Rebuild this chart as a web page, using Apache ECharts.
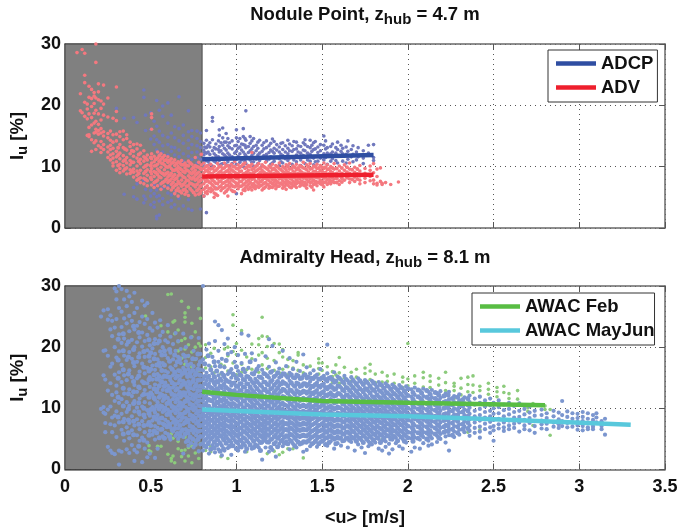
<!DOCTYPE html>
<html>
<head>
<meta charset="utf-8">
<style>
html, body { margin: 0; padding: 0; background: #fff; }
#mychart { width: 679px; height: 531px; }
</style>
</head>
<body>
<div id="mychart"></div>
<script src="https://cdn.jsdelivr.net/npm/echarts@6/dist/echarts.min.js"></script>
<script>
// values, one [x, [y, y, ...]] per column of dots
const adcpColumns = [
  [.3,[19.5]],[.345,[17.9,5.5]],[.4,[18,6.6,5.1]],[.42,[17.2,7.2,4.7]],[.46,[22.5,21.3,7.8,5.2,4.1]],[.47,[18.4,15.9,6.3,4.7]],[.5,[18.8,16.1,14.5,6.1,5.2,3.8]],
  [.52,[17.4,15,13.6,7.1,5.6,4.2,3.4]],[.535,[20.8,16.6,14.4,12.7,6.2,5.1,1.9,1.5]],[.55,[19.2,15.8,14,12.2,7,5.3,4.4,2.1]],[.57,[19.9,18.2,15.1,13.4,12.4,6.5,4.8,3.8]],
  [.6,[20.4,17.1,14.8,13.6,11.9,6.8,5.7,4.2]],[.62,[18.4,15.5,13.2,12.5,7.1,5.4,4.5,3.4]],[.64,[16.5,14.7,13.1,11.9,5.8,3.8]],[.665,[21.4,16.2,14.2,12.7,11.6,4.8,3.1]],
  [.69,[16.8,15.1,13.8,12.1,10.9,3.6]],[.72,[19.1,15.7,14.3,13,11.7,10.8,4.6,3.1]],[.74,[15.9,14.9,13.6,12.3,11.2,2.9]],[.77,[15.8,14.6,13.4,12.4,11.5,10.6]],[.79,[15.5,14.1,13.1,12,11.2,3.1]],
  [.81,[13.8,12.7,11.9,10.6,5.2]],[.825,[15.9,14.3,13.1,12.2,11,2.5]],[.845,[13.9,13.2,12,10.4]],[.86,[18,17.4,14.4,12.6,11.4,10.1]],[.88,[13.7,12.9,11.8,10.7,6.5]],
  [.9,[16,15.1,13.3,12.4,11,10.2]],[.92,[16.3,14.7,13.5,12.1,10.5]],[.94,[15.4,14,12.7,11.6,10.3]],[.96,[13.9,13.1,11.9,10.1]],[1,[16,14.7,13.5,12.5,11.2,10.4,5.6]],
  [1.02,[14.6,13.2,12.1,10.7]],[1.04,[16.2,14.9,13.6,12.4,11.3,10]],[1.055,[19.1,14.3,13.1,11.8,10.5]],[1.08,[14.9,13.8,12.6,11.1]],[1.1,[14.6,13.3,12.2,10.8,10.1]],
  [1.125,[14,13,11.9,10.5]],[1.15,[13.5,12.5,11.4,10.2]],[1.175,[14.2,13.1,12,10.9]],[1.2,[13.8,12.7,11.6,10.4]],[1.22,[14.1,13,12.2,10.9]],[1.25,[13.2,12.4,11.3,10.2]],
  [1.27,[13.9,12.8,11.8,10.6]],[1.3,[14.3,13,12.1,11,10.1]],[1.325,[13.4,12.5,11.5,10.4]],[1.35,[14,12.9,11.9,10.8]],[1.375,[13.3,12.2,11.1,10.2]],
  [1.4,[14.4,13.6,12.6,11.6,10.5]],[1.43,[14.3,13.1,12,10.9]],[1.45,[13.9,12.8,11.4,10.3]],[1.475,[13.2,12.3,10.9]],[1.51,[15,13.5,12.1,11.1]],[1.53,[13.1,12.2,10.4]],
  [1.56,[13.7,12.4,11.3]],[1.59,[14,12.8,11.7,10.6]],[1.62,[13,12.1,10.9]],[1.65,[14.2,12.5,11.2]],[1.68,[13.4,12,10.8]],[1.71,[13.1,11.6]],[1.74,[12.6,11.4,10.5]],[1.77,[13.5,12.2]],[1.8,[13.6,11.5,11]]
]
const adcpFillColumns = [
  [.815,[13.2,12.3,11.2,10.1]],[.835,[13.5,12.4,10.8]],[.87,[13.1,12.1,10.9]],[.895,[14.2,12.8,11.6]],[.91,[13.9,12.6,11.3,10.4]],[.93,[14,13,11.9]],[.95,[14.6,13.4,12.2,10.8]],
  [.975,[14.2,12.9,11.6,10.5]],[.99,[13.4,12.2,11]],[1.01,[14.1,13,11.7]],[1.03,[13.7,12.7,11.1]],[1.05,[14.6,13.5,12,10.9]],[1.07,[13.3,12.3,11.4]],[1.09,[14.2,12.9,11.8,10.7]],
  [1.115,[13.5,12.6,11.2]],[1.135,[14.3,12.2,11]],[1.16,[13.9,12.9,11.8]],[1.19,[13.4,12.3,11.2]],[1.21,[14.5,12.5,10.6]],[1.235,[13.6,12.7,11.5]],[1.26,[13.8,12,10.8]],
  [1.285,[13.4,12.4,11.3]],[1.31,[13.7,12.6,11.4]],[1.335,[14.1,12.8,11.1]],[1.36,[13.4,12.4,11.5]],[1.39,[13.9,12.7,11.8]],[1.415,[13.3,12.2,11.1]],[1.44,[13.5,12.5,11.6]],
  [1.46,[14.1,12.9,10.8]],[1.49,[13.6,12.6,11.4]],[1.52,[14.2,12.9,11.5]],[1.55,[13.3,12.1,10.9]],[1.58,[13.1,12.2,11]],[1.61,[13.5,12.5]],[1.64,[13.2,12,10.6]],[1.67,[12.8,11.6]],[1.7,[12.4,11.1]]
]
const advColumns = [
  [.07,[28.6]],[.09,[21.9,19.1]],[.1,[29.1,18.8]],[.115,[28.5,24.9,23.7,20.5,18.2]],[.13,[20.2,19.4,17.8,15.1]],[.14,[23.1,21.3,18.6,16.4,15.2,14.9]],
  [.155,[22.6,21.1,19.8,18,16.8,14.4,12.5]],[.17,[22.1,21.5,20.3,18.7,17.1,15.5,13.9]],[.18,[30,27,21.2,19.2,17.4,16.1,15.6,14.2,12.8]],[.195,[23.5,22.2,20.9,18.6,16.9,15.9,15.3,13.4]],
  [.21,[20.7,19.5,17.6,16.2,15.5,14.1,13.1,12.3]],[.225,[23.3,20.2,18.4,15.7,15,13.6,12.8]],[.25,[21.2,18.1,15.4,14.7,13.2,12.4,11.5]],[.265,[15.8,14.3,13.5,12.8,11.9,11.1]],
  [.28,[17.9,15.2,14,13,12.1,11.4,10.6,10.1]],[.3,[23,19,17.5,15.3,14.2,12.5,11.6,10.8,9.4]],[.32,[15.7,14.9,13.6,12.2,11.3,10.4,9.7,9]],[.34,[15.8,14.4,13.1,11.8,10.9,10.2,9.3]],
  [.36,[15.2,14.6,12.7,11.5,10.6,9.8,8.8]],[.38,[14,13.3,12.1,11,10.3,9.5,8.9]],[.4,[13.6,12.5,11.7,10.7,9.6,9.1,8.3]],[.42,[13.7,12.9,11.4,10.1,9.3,8.6,7.8]],
  [.44,[13.5,12.2,11.2,10.5,9.4,8.2,7.4]],[.46,[12.6,11.6,10.9,9.9,8.9,8.1,7.2]],[.48,[11.9,11.1,10.3,9.5,8.6,7.7,6.9]],[.505,[18.6,18,16.1,12.1,11.3,10.6,9.7,8.8,7.9,7]],
  [.52,[11.7,10.8,10.1,9.2,8.4,7.4,6.6]],[.54,[12.4,11.4,10.4,9.6,8.7,7.8,6.9]],[.56,[12.1,11.2,10.6,9.9,9,8.2,7.2,6.3]],[.58,[11.8,11,10.3,9.5,8.6,7.6,6.8]],
  [.6,[11.6,10.7,9.9,9.1,8.3,7.4,6.5]],[.62,[11.3,10.5,9.7,8.9,8,7.1,6.2]],[.64,[11.1,10.2,9.4,8.7,7.9,6.9,5.6]],[.66,[10.8,10,9.2,8.5,7.6,6.5,5.2]],[.68,[11,10.3,9.5,8.6,7.8,6.8,5.7]],
  [.7,[10.6,9.8,9,8.2,7.4,6.3,5.5]],[.72,[10.9,10.1,9.3,8.5,7.7,6.9,5.3]],[.74,[10.4,9.6,8.8,8,7.2,6.1]],[.76,[11.5,10.2,9.4,8.6,7.8,6.7,5.4]],[.78,[10.7,9.9,9.1,8.3,7.5,6.4,5.5]],
  [.795,[12,10.3,9.5,8.7,7.9,7,6.1]],[.81,[10.6,9.7,9,8,7.2,6.3,5.2]],[.83,[10.2,9.4,8.6,7.8,6.9,6,5.6]],[.85,[10.4,9.6,8.9,8.1,7.3,6.5,5.9]],[.87,[10,9.2,8.4,7.6,6.7,5.7,5]],
  [.89,[10.5,9.7,8.8,8,7.2,6.4,5.3]],[.91,[10.1,9.3,8.5,7.7,6.9,6.1]],[.93,[10.6,9.8,9,8.2,7.4,6.6,5.7]],[.95,[10.2,9.4,8.6,7.8,7,6.3,5.2]],[.97,[10.4,9.5,8.7,7.9,7.1,6.2]],
  [.99,[10.8,10,9.1,8.3,7.5,6.7,5.9]],[1.01,[10.3,9.6,8.8,8,7.2,6.4]],[1.03,[10.1,9.3,8.5,7.6,6.8,5.6]],[1.05,[10.6,9.7,8.9,8.1,7.3,6.5,6.1]],[1.07,[10.2,9.4,8.6,7.8,7.1,6.3]],
  [1.09,[12.3,10.4,9.5,8.7,7.9,7,6.2]],[1.11,[10,9.2,8.4,7.7,6.9,6.4]],[1.13,[10.5,9.6,8.8,8,7.2,6.6]],[1.15,[10.3,9.4,8.6,7.8,7,6.2]],[1.17,[10.7,9.8,8.9,8.1,7.4,6.7]],
  [1.19,[10.1,9.3,8.5,7.7,6.9,6.5]],[1.21,[10.4,9.5,8.7,7.9,7.2,6.6]],[1.23,[10.2,9.4,8.6,7.8,7.1,6.4]],[1.25,[10.6,9.7,8.8,8,7.3,6.8]],[1.27,[10,9.2,8.5,7.7,7,6.5]],
  [1.29,[10.3,9.5,8.7,7.9,7.2,6.3]],[1.31,[10.5,9.6,8.9,8.1,7.4,6.7]],[1.33,[10.1,9.3,8.4,7.6,6.9]],[1.35,[10.4,9.5,8.6,7.8,7.2,6.6]],[1.37,[10.2,9.4,8.7,8,7.3,6.8]],
  [1.39,[10.7,9.8,8.9,8.1,7.5,7]],[1.41,[10.3,9.5,8.6,7.9,7.1,6.5]],[1.43,[10.5,9.6,8.8,8,7.4,6.9]],[1.45,[10.1,9.2,8.5,7.8,7.1,6.2]],[1.47,[10.4,9.7,8.9,8.2,7.5,6.9]],
  [1.49,[10.2,9.4,8.6,7.8,7.2]],[1.51,[10.6,9.7,8.9,8.1,7.4,6.7]],[1.53,[10.3,9.5,8.7,7.9,7.1]],[1.55,[10,9.2,8.4,7.7,7.2]],[1.57,[10.5,9.6,8.8,8,7.4]],[1.6,[10.1,9.3,8.5,7.7,7.1]],
  [1.63,[10.3,9.4,8.6,7.8]],[1.66,[10.6,9.6,8.9,8,7.4]],[1.69,[9.9,9.1,8.3,7.6]],[1.72,[10.2,9.3,8.5,7.8,7.2]],[1.75,[9.7,8.9,8.1,7.4]],[1.78,[10.1,9.4,8.4,7.7]],
  [1.8,[10.5,9,7.8,7.2]],[1.82,[9.6,8.4,7.3,7]],[1.84,[9.8,7.6]],[1.85,[7.1,7.3]],[1.87,[7.4]],[1.9,[7.1]],[1.945,[7.5]]
]
const advFillColumns = [
  [.31,[13.1,11.9,10.2]],[.35,[12.9,11.1,9.6]],[.39,[12.6,10.7,9.2]],[.43,[12,10.9,8.9,8]],[.47,[11.4,10.1,9.2,7.9]],[.5,[11.5,10.2,9.2,8.2]],[.53,[11.2,10.2,9,7.6]],[.55,[11.8,10.9,9.3,8.3]],
  [.57,[11.5,10.5,8.9,7.4]],[.59,[11.1,10,8.9,7.9]],[.61,[11,10.1,8.6,7.7]],[.63,[10.7,9.4,8.4,7.4,6.6]],[.65,[10.5,9.6,8.1,7.1,6.1]],[.67,[10.6,9.7,8.9,7.2,6]],[.69,[10.3,9.2,8.3,7.1,6.2]],
  [.71,[10.2,9.4,7.8,6.8,5.9]],[.73,[10.6,9,8.2,7.3,6.4]],[.75,[9.9,9.1,8.2,7,5.8]],[.77,[10,8.9,8,7.1,6.1]],[.79,[9.7,8.5,7.7,6.8,5.7]],
  [.82,[10,9.3,8.2,7.6,6.6,5.8]],[.84,[9.8,9.1,7.5,6.4]],[.86,[9.7,8.8,7.8,7,6.2]],[.88,[9.4,8.6,7.3,6.4,5.5]],[.9,[10,9.1,8.3,7.6,6.7]],[.92,[9.7,8.9,8.1,7.3,6.5]],[.94,[10.1,9.2,7.6,6.9,6]],
  [.96,[9.8,9,8.2,7.4,6.7]],[.98,[10,9.3,7.7,6.8,6]],[1,[9.7,8.9,8.1,7.3,6.9]],[1.02,[9.9,9.2,8.4,7.6,6.8]],[1.04,[10.4,8.8,8,7.1,6.2]],[1.06,[9.9,9.1,8.3,7.6,6.8]],[1.08,[10,8.9,8.2,7.4,6.6]],
  [1.1,[9.7,9,8.1,7.2,6.7]],[1.12,[10.2,9.4,8.5,7.5,6.8]],[1.14,[9.8,9,8.3,7.6,6.9]],[1.16,[10,9.1,8.1,7.3,6.5]],[1.18,[9.6,8.8,7.9,7.1]],[1.2,[9.9,9,8.2,7.4,6.7]],[1.22,[9.7,8.9,8.1,7.5,6.9]],
  [1.24,[10,9.1,8.3,7.5,6.8]],[1.26,[9.5,8.7,8.1,7.3]],[1.28,[9.8,9,8.2,7.4,6.8]],[1.3,[10,9.1,8.3,7.6,7]],[1.32,[9.7,8.8,8,7.2,6.6]],[1.34,[9.9,9,8.2,7.4,6.9]],[1.36,[9.8,8.9,8.2,7.5]],
  [1.38,[10,9.1,8.4,7.6,7.1]],[1.4,[9.7,8.9,8.2,7.4,6.9]],[1.42,[10,9.1,8.3,7.6]],[1.44,[9.7,8.9,8.2,7.5,6.7]],[1.46,[10,9.2,8.3,7.6,7.2]],[1.48,[9.8,9,8.2,7.4]],[1.5,[9.9,9.2,8.4,7.6,7.1]],
  [1.52,[9.9,9,8.2,7.5]],[1.54,[9.6,8.8,8,7.4]],[1.56,[9.8,9,8.2,7.6]],[1.585,[9.7,8.9,8.1,7.4]],[1.615,[9.8,8.9,8.1,7.5]],[1.645,[9.9,9.1,8.2]],[1.675,[9.5,8.7,7.9]],[1.705,[9.6,8.8,8]]
]
const adcpLine = [[.8,11.2],[1.8,11.9]]
const advLine = [[.8,8.4],[1.8,8.7]]

const febColumns = [
  [.47,[25.1]],[.49,[3.9,3.1]],[.5,[2.9]],[.54,[3.4,3.8]],[.56,[3.8,23.5]],[.6,[28.6,2.5,22.5]],[.62,[28.7,5.8,1.8,1.4]],[.63,[5.1,2.2,24.1]],[.64,[24.3,22.2,1.1]],
  [.66,[22.8,20.9,19.4,4.6,3.4]],[.68,[27.5,21.1,18.2,3.1,2.1]],[.7,[19.7,17.2,5.3,3.2,1.4]],[.7,[25.6,24.9,24.1,21.4,15.9]],[.72,[26.5,20.4,18.5,3.6,2.2]],[.74,[23.9,21.7,19.2,16.8,1.1,3.8]],
  [.76,[22.5,20,18,4.6,2.7]],[.78,[26.3,20.6,18.9,16.2,2.9,1.8]],[.79,[24.7,20.2,17.5,4.2]],[.82,[20.4,18.3,16.6,3.1]],[.85,[19,16.8,2.9,3.8]],[.87,[19.8,17.5,15.8]],[.91,[17.2,15.7,2.1]],[.93,[19.7,16.9]],
  [.95,[20,18.6,16.1,1.8]],[.98,[25.3,23.6,19.3,17.4,15.4]],[1,[20.6,18.8,16.7,15.5]],[1.03,[22.7,19.5,17.2,15.9]],[1.06,[18.4,16.3,2.9]],[1.09,[20.5,18.1,16.4]],[1.13,[21.4,20.4,18.7,15.9]],[1.15,[24.9,21.8,19.1,17.1]],
  [1.18,[21.7,20.1,18.2,16.5,2.6]],[1.22,[20.6,17.8,16.2,3]],[1.25,[20.5,19.1,15.8,2.4]],[1.27,[19.6,18.4,16.4,2.8]],[1.3,[18,16.8,15.5,3.4]],[1.33,[17.8,16.6,3.4]],[1.36,[19.1,18.7,16.2,15.4]],[1.39,[17.1,15.8,1.9]],
  [1.43,[16.9,15.7]],[1.48,[18.1,17.4,16.5,15.6]],[1.5,[17.4,16.2,14.9]],[1.53,[16.8,15.7,14.8]],[1.56,[16,15.2,14.2]],[1.58,[17.1,15.5,14.6]],[1.6,[18.3,15.8,14.1]],[1.63,[16.7,15,13.9]],[1.67,[15.9,14.4,13.7]],
  [1.7,[16.4,15.1,13.8]],[1.75,[16.6,15.7,14.2]],[1.78,[17.2,16.1,14.7,13.5]],[1.81,[15.6,14.2]],[1.85,[15.9,14.3,13.6,4.9]],[1.88,[15.3,14.4,13.7]],[1.92,[15.6,14.1]],[1.97,[15.1,14.3,13.4]],[2,[20.6,14.8,13.7]],
  [2.04,[15.3,14.1]],[2.09,[15.9,15,13.5]],[2.13,[15.3,14.4,13.4]],[2.18,[14.9,13.8]],[2.22,[15.9,14.2,12.9]],[2.27,[14.1,13.6,12.9,11.6]],[2.31,[14.9,13.3,12.2]],[2.35,[15.1,13.9,12.7,11.5,6.1]],[2.38,[15.3,13.8,12.6]],
  [2.42,[13.6,12.9,11.9,6.5]],[2.47,[14.1,13.1,12.3]],[2.52,[13.4,12.7,11.9]],[2.56,[13.6,12.6]],[2.59,[12.4,11.6]],[2.64,[12.9,11.5]],[2.7,[10.1,9.5]],[2.73,[10.8,7.2]],[2.8,[10.4,9.8]],[2.83,[5.6,9.8]]
]
const mayJunColumns = [
  [.21,[25,9.9]],[.225,[26,19.4,15.4,10.2,9.3]],[.235,[19.5,14.7,9.1,7.6,6.1]],[.25,[26.2,24.5,18.6,12.9,9.8,3.7]],[.265,[25.2,22.9,16.8,14.1,10.3,7.4,3.1]],[.275,[24.3,21.8,17.3,12.2,8.5,6.1,2.7]],
  [.29,[29.6,23.2,20,15.5,11.2,8.8,7.2,2.5]],[.3,[29.1,27.8,24.6,18.3,13.7,12.6,9.5,5.3]],[.315,[30,26.4,22.1,19.3,15.9,10.9,7.7,3.1,0.8]],[.33,[29.5,25.8,23.3,20.7,17.1,14.3,11.5,9.1,6.5,2.9]],
  [.345,[27.8,24.7,21.4,18.6,15.4,12.4,8.3,4.7]],[.36,[29.2,26.7,23.9,20.4,17.9,14.6,11,9.4,6.9,3.3]],[.375,[28.3,25.1,22.6,19.2,16.2,13.1,10.4,7.6,5.1,2.7]],[.39,[27.4,24.3,21.2,18.1,15.1,12,8.7,6.4,4]],
  [.405,[28.9,25.6,22.9,20,16.9,13.8,11.2,9.5,7.2,3.2,1.4]],[.42,[26.4,23.5,20.8,17.6,14.9,12.7,10.1,8.2,5.6,2.8]],[.435,[24.1,21.6,19,16,13.3,11.6,9,6.6,4.7]],[.45,[27.6,25,22.4,20.1,17.3,14.4,12.1,10.3,7.9,5.2,1.2]],
  [.465,[26.8,23.8,21,18.4,15.7,13,11,8.5,6.1,3.4]],[.48,[27.2,24.6,22,19.5,16.6,14.1,12.3,9.7,7.3,4.4,2]],[.495,[23.1,20.3,17.7,15.1,13.5,10.8,8.8,6.3,2.6]],[.51,[25.6,22.7,19.8,17,14.7,12.2,10.2,8,5.7]],
  [.525,[24,21.3,18.9,16.3,13.9,11.4,9.3,7.1,4.9,1.9]],[.54,[23.2,20.6,18,15.6,13.2,11,8.9,6.8,3.4]],[.555,[24.4,21.9,19.3,16.8,14.5,12.4,10.5,8.4,6.5]],[.57,[22.5,20,17.4,15,13,11.2,9.4,7.5,5.4]],
  [.585,[21.1,18.7,16.1,14.2,12.1,10.1,8.1,6]],[.6,[23.6,20.8,18.2,15.9,13.7,11.7,9.8,7.8,5.8]],[.615,[21.7,19.1,16.7,14.6,12.7,10.7,8.9,6.9,4.9]],[.63,[20.5,18,15.4,13.4,11.5,9.6,7.7,6.2]],
  [.645,[22.3,19.4,17,14.9,12.9,11,9.2,7.3,5.5]],[.66,[21,18.4,16.2,14.1,12.2,10.4,8.6,6.7,5]],[.675,[19.7,17.4,15.3,13.5,11.8,9.9,8,6.1]],[.69,[22.2,18.8,16.6,14.5,12.6,10.8,9.1,7.4,5.3,2.6]],
  [.705,[20,17.7,15.7,13.8,12,10.2,8.4,6.6,4.5]],[.72,[18.6,16.4,14.4,12.8,11.1,9.5,7.7,5.9,3.9]],[.735,[21.6,17.3,15.2,13.3,11.6,10,8.2,6.4,4.3]],[.75,[19.4,16.9,14.8,13.1,11.4,9.7,7.9,6,3.6]],
  [.765,[18.1,15.9,14,12.4,10.9,9.2,7.5,5.6,4.6]],[.78,[21.5,17.1,15.5,13.6,12,10.5,8.8,7.1,5.2,3]],[.79,[18.9,16.3,14.6,12.9,11.3,9.6,8.1,6.3,4.1]],
  [.805,[30,18,16.2,14.7,13.4,12.3,11.2,10.1,9.2,8.2,7.3,6.4,5.4,4.3,3.1]],[.825,[19.6,15.8,14.5,13.1,12,10.9,9.8,8.8,7.9,6.9,6,5,3.6]],[.84,[20.6,17,15.3,14,12.7,11.5,10.4,9.4,8.5,7.5,6.5,5.6,4.5,2.6]],
  [.86,[18.4,15.7,14.6,13.3,12.2,11.1,10,9.1,8.1,7.1,6.2,5.2,4]],[.875,[24.2,21,16.9,15,13.8,12.6,11.6,10.5,9.6,8.6,7.6,6.7,5.7,4.6,2.8]],[.895,[23.6,19.4,17.6,15.4,14.2,13,11.9,10.8,9.9,8.9,7.9,6.9,5.9,4.8,3.3]],
  [.915,[22.8,18.1,15.8,14.5,13.3,12.2,11.1,10.1,9.1,8.2,7.2,6.3,5.3,3.9,2.3]],[.93,[20.5,16.7,15.1,14,12.8,11.7,10.6,9.6,8.6,7.7,6.8,5.8,4.7,3.1]],[.95,[21.4,18.9,15.6,14.4,13.2,12,10.9,9.9,9,8,7.1,6.1,5,3.5]],
  [.97,[19.2,16.4,15,13.7,12.5,11.4,10.3,9.4,8.4,7.4,6.5,5.5,4.4,2.4]],[.99,[20,17.6,15.4,14.2,13,11.8,10.7,9.7,8.8,7.8,6.9,5.9,4.8]],[1.01,[18.7,16.1,14.7,13.5,12.3,11.2,10.2,9.2,8.3,7.3,6.3,5.3,4.2,3.1]],
  [1.03,[22.2,17.4,15.3,14.1,12.9,11.7,10.6,9.5,8.6,7.7,6.7,5.7,4.6,3.6]],[1.05,[18.9,15.9,14.6,13.4,12.2,11.1,10,9.1,8.1,7.2,6.2,5.1,3.9,2.9]],[1.07,[21.9,16.6,15.2,14,12.8,11.6,10.5,9.5,8.5,7.5,6.6,5.5,4.4]],
  [1.09,[19,15.7,14.4,13.1,12,10.9,9.9,8.9,8,7,6,5,3.4]],[1.11,[17.9,16,14.8,13.6,12.4,11.3,10.2,9.2,8.3,7.4,6.4,5.4,4.1]],[1.13,[16.9,15.2,14.1,12.9,11.7,10.7,9.7,8.7,7.8,6.9,5.8,4.7,3.6]],
  [1.15,[16.3,14.9,13.5,12.2,11.2,10.1,9.1,8.2,7.2,6.2,5.2,4.4,1.6]],[1.17,[18.5,15.6,14.3,13.2,12,10.9,9.9,9,8,7.1,6.1,5.1,3.6]],[1.19,[21.3,16.8,15,13.8,12.6,11.5,10.4,9.4,8.4,7.5,6.5,5.5,4.4,2.9]],
  [1.21,[20.2,16.1,14.6,13.3,12.1,11,10,9,8.1,7.1,6.1,5,3.2]],[1.23,[17.5,15.4,14.1,12.9,11.8,10.7,9.6,8.7,7.7,6.7,5.7,4.5,2.1]],[1.25,[16.5,15,13.7,12.5,11.4,10.3,9.3,8.4,7.4,6.4,5.4,4.2]],
  [1.27,[19.4,15.7,14.4,13.2,12,10.9,9.9,8.9,7.9,7,6,4.9,3.8]],[1.29,[16.9,15.3,14,12.7,11.6,10.5,9.5,8.6,7.6,6.6,5.6,4.6]],[1.31,[18.2,15.8,14.5,13.1,12,10.9,9.8,8.8,7.9,6.9,5.9,4.9,3.3]],
  [1.33,[16.4,15,13.8,12.6,11.4,10.3,9.4,8.4,7.5,6.5,5.5,4.2]],[1.35,[17.6,15.5,14.2,13,11.8,10.7,9.7,8.7,7.8,6.8,5.8,4.8,3.6]],[1.37,[16.1,14.8,13.5,12.3,11.2,10.2,9.2,8.2,7.2,6.3,5.3,4.1]],
  [1.39,[18.8,15.3,14.1,12.9,11.7,10.6,9.6,8.6,7.7,6.7,5.7,4.6,2.9]],[1.41,[16.7,14.9,13.6,12.4,11.3,10.2,9.1,8.2,7.3,6.4,5.4,4.4,3.2]],[1.43,[15.7,14.4,13.2,12,10.9,9.9,8.9,8,7,6,5,3.8]],
  [1.45,[16.2,14.8,13.5,12.3,11.2,10.1,9.3,8.4,7.4,6.4,5.4,4.3]],[1.47,[15.5,14.2,13,11.8,10.8,9.8,8.8,7.9,6.9,6,5,3.7]],[1.49,[16.4,14.7,13.4,12.2,11.1,10.2,9.2,8.3,7.3,6.3,5.3,4.5]],
  [1.51,[15.3,14,12.8,11.7,10.6,9.7,8.7,7.8,6.8,5.8,4.8]],[1.53,[20.4,15.7,14.4,13.1,12,10.9,9.9,9,8,7,6,5.1,3.9]],[1.55,[15.1,13.8,12.6,11.5,10.4,9.5,8.5,7.6,6.6,5.6,4.6]],
  [1.57,[15.9,14.2,13,11.9,10.8,9.8,8.9,7.9,6.9,5.9,4.9,3.4]],[1.59,[15.2,13.7,12.5,11.3,10.3,9.3,8.4,7.4,6.4,5.4,4.3]],[1.61,[14.7,13.4,12.2,11.1,10,9.1,8.1,7.2,6.2,5.2,3.9]],
  [1.63,[15.3,14,12.8,11.7,10.6,9.6,8.7,7.7,6.7,5.7,4.7]],[1.65,[14.5,13.3,12.2,11,10,9.1,8.2,7.2,6.2,5.2,3.6]],[1.67,[15.1,13.8,12.6,11.4,10.4,9.5,8.5,7.5,6.5,5.4,4.5]],
  [1.69,[14.3,13.1,12,10.9,9.9,8.9,8,7,6,5,3.1]],[1.71,[14.9,13.6,12.4,11.3,10.2,9.3,8.4,7.4,6.4,5.3,4.1]],[1.73,[14.2,13,11.8,10.7,9.7,8.8,7.9,6.9,5.9,4.8,3.6]],
  [1.75,[14.6,13.3,12.2,11.1,10.1,9.1,8.2,7.2,6.3,5.3,2.7]],[1.77,[14,12.8,11.6,10.6,9.6,8.6,7.7,6.7,5.7,4.6,3.8]],[1.79,[14.5,13.2,12,10.9,9.9,9,8.1,7.1,6.1,5.1,4.1]],
  [1.81,[13.9,12.7,11.5,10.5,9.5,8.5,7.6,6.6,5.6,4.4]],[1.83,[14.3,13,11.9,10.8,9.8,8.9,7.9,6.9,6,5,3.4]],[1.85,[13.7,12.5,11.4,10.3,9.3,8.4,7.5,6.5,5.5,4.7,3.1]],
  [1.87,[14.1,12.8,11.7,10.7,9.7,8.7,7.8,6.8,5.8,4.6,3.7]],[1.89,[13.5,12.3,11.2,10.2,9.2,8.3,7.4,6.4,5.4,4.2,2.6]],[1.91,[13.9,12.7,11.6,10.6,9.6,8.6,7.6,6.6,5.6,4.9,3.3]],
  [1.93,[13.3,12.2,11,10,9.1,8.1,7.2,6.2,5.2,4.3]],[1.95,[13.8,12.6,11.5,10.5,9.5,8.5,7.5,6.5,5.6,3.8]],[1.97,[13.2,12,10.9,9.9,9,8,7.1,6.1,5,3.4]],[1.99,[13.6,12.4,11.3,10.3,9.4,8.4,7.4,6.4,5.4,4.4]],
  [2.02,[13.1,11.9,10.8,9.8,8.9,7.9,6.9,6,5.1,2.9]],[2.04,[13.4,12.2,11.1,10.1,9.2,8.2,7.2,6.2,5.2,3.6]],[2.07,[12.9,11.7,10.6,9.7,8.7,7.7,6.8,5.9,4.9,3.4]],[2.09,[13.2,12,11,10,9,8.1,7.1,6.1,5.3,4.3]],
  [2.12,[12.7,11.6,10.5,9.5,8.5,7.6,6.6,5.7,4.7,3.9]],[2.14,[13,11.8,10.8,9.8,8.9,7.9,7,6,5.1,4.1]],[2.17,[12.5,11.4,10.3,9.4,8.4,7.4,6.5,5.5,4.5]],[2.19,[12.8,11.7,10.6,9.6,8.7,7.7,6.8,5.8,5]],
  [2.22,[12.4,11.2,10.2,9.2,8.3,7.3,6.3,5.4,4.4]],[2.24,[12.7,11.5,10.5,9.5,8.5,7.6,6.6,5.6,3.1]],[2.27,[12,11,10,9,8.1,7.1,6.2,5.3]],[2.3,[12.3,11.3,10.3,9.3,8.4,7.4,6.5,5.7]],[2.33,[11.8,10.8,9.8,8.9,7.9,7,6.1]],
  [2.36,[12.1,11,10.1,9.1,8.2,7.2,6.3,5.5]],[2.39,[11.6,10.6,9.6,8.7,7.7,6.8,6]],[2.42,[11.9,10.9,9.9,8.9,8,7,6.2,5.2]],[2.45,[11.3,10.3,9.4,8.5,7.5,6.6]],[2.48,[11.6,10.5,9.6,8.7,7.8,6.9,6]],
  [2.5,[10.9,10,9.1,8.1,7.1,6.4,4.7]],[2.53,[11.3,10.2,9.2,8.3,7.4,6.7]],[2.56,[10.6,9.7,8.7,7.7,6.9,6.3]],[2.59,[10.9,9.9,9,8,7.2,6.6]],[2.62,[10.4,9.4,8.5,7.5,6.8]],[2.65,[10.8,9.6,8.6,7.7,6.2]],
  [2.68,[9.9,9,8.1,7.2,6.6]],[2.71,[10.3,9.3,8.4,7.6,6.4]],[2.74,[9.6,8.8,7.9,7.1,6]],[2.78,[9.8,8.9,8,7.4,6.7]],[2.81,[9.2,8.4,7.5,6.6]],[2.85,[9.6,8.7,7.7,7]],[2.88,[9.3,8.2,7.4,6.8]],
  [2.9,[11.2,8.9,7.9,7.1]],[2.93,[9.5,8.6,7.6,6.9]],[2.96,[9.2,8.3,7.7,7]],[2.99,[9.1,8.4,7.8,7.2,6.5]],[3.02,[9.4,8.6,7.9,7.1,6.4]],[3.05,[9.2,8.3,7.6,6.9,6.6]],[3.08,[8.9,8.1,7.4,7,6.6]],[3.1,[9.2,8.5,7.7]],[3.13,[7.9,7.1,6.6]],[3.15,[8.3,5.7]]
]
const mayJunFillColumns = [
  [.31,[21.3,17.9,14.9,11.8,8.6]],[.34,[22.2,19.4,16.3,13.3,10.4,7.8,5.8]],[.37,[20.9,18.4,15.6,12.4,9.9,8.1,6]],[.4,[23.4,19.6,17.5,14.4,12.7,10.8,7.9,5.7]],[.43,[22.4,18.4,15.3,13.5,10.9,9.4,7.4,3.8]],
  [.46,[19.3,16.7,14.2,12.3,10,8.9,7.2,4.8]],[.49,[21.2,18.5,16.1,14.7,11.8,9.2,7.7,5.6]],[.5,[19.1,16.4,12.5,9.8,7.2]],[.52,[20.6,18.1,15.5,13.2,11.7,9.8,8.6,6.3]],[.535,[17.1,14.8,12.7,10.4,8.2,6]],
  [.55,[21,17.4,15.2,13.7,11.8,9.9,7.7,5.2]],[.565,[18.7,16.2,14.3,12.2,10.3,8.4,6.6]],[.58,[19.4,17.1,15.3,13.6,11.6,9.7,7.3,5.1]],[.595,[15.2,12.9,10.8,9,7]],[.61,[19.6,17.7,15.1,13.3,11.2,9.4,7.4,5.4]],
  [.625,[16.4,14.2,12.3,10.3,8.4,6.5]],[.64,[18.7,15.9,13.9,12.1,10.1,8.1,6.7]],[.655,[17.6,15.3,13.2,11.5,9.7,7.8,5.9]],[.67,[18.1,16.1,14.6,12.6,10.9,9.1,7.2,5.5]],[.685,[15.7,13.9,12.2,10.4,8.5,6.5]],
  [.7,[18.5,16.2,14.1,12.5,11.1,9.3,7.7,5.8]],[.715,[17.1,15.2,13.4,11.7,9.9,8.1,6.3,4.7]],[.73,[15.8,14,12.4,10.7,8.9,7.1,5.3]],[.745,[18.1,16.2,14.4,12.2,10.5,8.7,6.9,5]],[.76,[15.5,13.6,11.8,10.1,8.4,6.5,4.1]],
  [.775,[18.9,16.4,14.6,12.9,11.2,9.5,7.8,6.2,4.9]],[.79,[17.6,15.4,13.6,12.1,10.4,8.8,7.2,5.4]],
  [.815,[17.3,15.2,14,12.8,11.7,10.6,9.6,8.7,7.7,6.8,5.9,4.8,3.8]],[.835,[18.6,15.1,13.7,12.5,11.4,10.3,9.3,8.3,7.4,6.4,5.4,4.2]],[.85,[16.3,14.6,13.4,12.4,11.3,9.9,9,8,7,6,5,3.3]],
  [.87,[17.6,15.2,14.2,12.9,11.7,10.6,9.5,8.6,7.6,6.6,5.6,4.5,3.5]],[.885,[16.1,14.4,13.2,12.1,11,10,9.1,8.1,7.1,6.2,5.2,4]],[.905,[16.9,14.8,13.6,12.4,11.4,10.3,9.4,8.4,7.5,6.5,5.5,4.3,3]],
  [.925,[15.4,13.8,12.6,11.5,10.5,9.6,8.6,7.6,6.7,5.8,4.9,3.4]],[.94,[17.8,14.6,13.4,12.3,11.2,10.2,9.2,8.2,7.2,6.3,5.4,4.3]],[.96,[16,14.3,13,11.8,10.7,9.7,8.8,7.9,6.9,5.9,4.7,3.8]],
  [.98,[15.6,14.1,12.8,11.7,10.8,9.9,8.9,8,7,6.1,5.2,3.9]],[1,[16.8,14.9,13.6,12.5,11.5,10.4,9.4,8.5,7.5,6.6,5.6,4.5,3.4]],[1.02,[15.5,14,12.9,11.8,10.7,9.7,8.7,7.8,6.8,5.8,4.8,3.7]],
  [1.04,[16.4,14.7,13.5,12.3,11.2,10.1,9.1,8.2,7.2,6.2,5.2,4.2]],[1.06,[15.2,14,12.8,11.7,10.6,9.6,8.6,7.7,6.8,5.9,4.7,3.4]],[1.08,[17.6,14.8,13.5,12.4,11.3,10.2,9.2,8.3,7.3,6.3,5.3,4]],
  [1.1,[15.6,14.1,12.7,11.6,10.5,9.5,8.6,7.6,6.6,5.7,4.6,3.6]],[1.12,[16.4,14.4,13.2,12.1,10.9,9.8,8.8,7.9,7,6,5,3.9]],[1.14,[15.1,13.8,12.6,11.5,10.4,9.4,8.4,7.4,6.5,5.5,4.4,3.1]],
  [1.16,[15.7,14.3,13,11.8,10.7,9.6,8.7,7.7,6.7,5.7,4.8]],[1.18,[15.3,13.9,12.7,11.4,10.4,9.4,8.5,7.6,6.6,5.6,4.5]],[1.2,[15.9,14.4,13.2,12.1,11,9.9,8.9,8,7,6,4.9,3.6]],
  [1.22,[15.2,13.8,12.6,11.5,10.5,9.5,8.5,7.5,6.5,5.4,4.2]],[1.24,[15.8,14.4,13.3,12.2,11.1,10,9.1,8.2,7.2,6.2,5.1,3.7]],[1.26,[15.3,14,12.8,11.7,10.7,9.7,8.7,7.7,6.7,5.7,4.7]],
  [1.28,[15.6,14.1,13,11.8,10.6,9.6,8.6,7.5,6.5,5.3,4.3]],[1.3,[15.1,13.7,12.5,11.4,10.3,9.3,8.4,7.4,6.4,5.4,4.2]],[1.32,[15.5,14.2,12.9,11.7,10.7,9.6,8.6,7.6,6.7,5.7,4.6]],
  [1.34,[15,13.6,12.4,11.2,10.1,9.1,8.2,7.2,6.2,5.2,3.9]],[1.36,[15.3,14,12.7,11.6,10.5,9.5,8.5,7.5,6.5,5.5,4.5]],[1.38,[14.9,13.7,12.6,11.4,10.4,9.4,8.4,7.4,6.5,5.5,4.3]],
  [1.4,[15.5,14,12.7,11.5,10.4,9.4,8.4,7.5,6.5,5.5,4.5]],[1.42,[15.1,13.9,12.7,11.6,10.5,9.5,8.5,7.6,6.7,5.7,4.7]],[1.44,[14.9,13.6,12.5,11.4,10.3,9.3,8.3,7.3,6.3,5.3,4.2]],
  [1.46,[15.2,13.9,12.7,11.6,10.5,9.6,8.6,7.6,6.6,5.6,4.6]],[1.48,[14.8,13.6,12.4,11.2,10.2,9.2,8.2,7.2,6.3,5.3,4.2]],[1.5,[15,13.8,12.6,11.5,10.5,9.5,8.5,7.5,6.5,5.5,4.6]],
  [1.52,[14.7,13.4,12.2,11.1,10.1,9.1,8.2,7.2,6.2,5.2,4.1]],[1.54,[14.9,13.5,12.3,11.2,10.2,9.2,8.3,7.4,6.4,5.4,4.4]],[1.56,[14.7,13.4,12.2,11.2,10.1,9.1,8.2,7.2,6.2,5.2]],
  [1.58,[14.4,13.2,12.1,11,10,9,8.1,7.1,6.1,5.1,4.2]],[1.6,[14.9,13.6,12.4,11.2,10.1,9.1,8.1,7.1,6.1,5.1]],[1.62,[14.3,13,11.8,10.7,9.7,8.7,7.8,6.8,5.8,4.7]],[1.64,[14.7,13.4,12.2,11.1,10.1,9.1,8.1,7.1,6.1,5.1]],
  [1.66,[14.1,12.9,11.8,10.7,9.7,8.8,7.9,6.9,5.9,4.8]],[1.68,[14.6,13.4,12.2,11.1,10.1,9.1,8.2,7.2,6.2,5.2]],[1.7,[14,12.8,11.7,10.7,9.6,8.6,7.7,6.7,5.6,4.6]],[1.72,[14.5,13.2,12.1,11,9.9,9,8.1,7.1,6.1,5.1]],
  [1.74,[13.9,12.7,11.5,10.4,9.4,8.5,7.5,6.5,5.5,4.4]],[1.76,[14.3,13.1,11.9,10.8,9.8,8.9,7.9,6.9,6,5]],[1.78,[13.6,12.5,11.3,10.3,9.3,8.4,7.4,6.4,5.4,4.3]],[1.8,[14.2,13,11.8,10.7,9.7,8.7,7.8,6.8,5.8,4.8]],
  [1.82,[13.5,12.2,11.1,10.1,9.1,8.1,7.1,6.1,5.2]],[1.84,[13.9,12.8,11.7,10.6,9.6,8.6,7.7,6.7,5.7,4.4]],[1.86,[13.3,12.1,11,10,9.1,8.1,7.1,6.1,5.1]],[1.88,[13.7,12.5,11.4,10.4,9.4,8.5,7.5,6.5,5.5]],
  [1.9,[13.1,12,10.9,9.9,8.9,8,7,6,5]],[1.92,[13.5,12.4,11.3,10.2,9.2,8.3,7.3,6.3,5.4]],[1.94,[13,11.9,10.8,9.8,8.8,7.8,6.8,5.9,4.7]],[1.96,[13.4,12.3,11.2,10.2,9.2,8.2,7.3,6.3,5.3]],
  [1.98,[12.8,11.7,10.6,9.6,8.6,7.7,6.7,5.7,4.6]],[2,[13.2,12.1,11,10,9.1,8.1,7.1,6.1,5.2]],[2.03,[12.6,11.5,10.4,9.4,8.5,7.5,6.6,5.6,4.6]],[2.06,[13,11.9,10.8,9.9,8.9,8,7,6,5.1]],
  [2.08,[12.5,11.4,10.4,9.4,8.4,7.5,6.5,5.6]],[2.11,[12.9,11.8,10.8,9.8,8.9,7.9,7,6,5]],[2.13,[12.3,11.3,10.2,9.2,8.2,7.3,6.3,5.4]],[2.16,[12.6,11.6,10.6,9.7,8.7,7.8,6.8,5.8]],[2.18,[12.2,11.2,10.1,9.2,8.2,7.2,6.2,5.2]],
  [2.21,[12,11,10,9,8,7,6.1]],[2.235,[12.2,11.1,10.1,9.1,8.1,7.1,6.2]],[2.26,[11.6,10.6,9.6,8.6,7.6,6.6,5.6]],[2.29,[11.8,10.8,9.8,8.9,7.9,7,6]],[2.32,[11.4,10.4,9.4,8.4,7.4,6.6]],[2.35,[11.6,10.6,9.6,8.7,7.7,6.7]]
]
const febLine = [[.8,12.7],[1,12.2],[1.5,11.2],[2,10.9],[2.8,10.5]]
const mayJunLine = [[.8,9.8],[1.5,9],[2,8.7],[2.5,8.2],[3.3,7.3]]
const lowSpeedBand = [0, .8]

// flatten the columns into [x, y] pairs for the scatter series
function toPoints (columns) {
  const points = []
  columns.forEach(function (c) {
    c[1].forEach(function (y) { points.push([c[0], y]) })
  })
  return points
}

const labelFont = { fontFamily: 'Liberation Sans', fontWeight: 'bold', fontSize: 18, color: '#111' }
const frameColor = '#6a6a6a'

function titleOf (name, hub) {
  return '{a|' + name + ', z}{b|hub}{a| = ' + hub + ' m}'
}
const titleRich = {
  a: Object.assign({}, labelFont, { fontSize: 18.5, verticalAlign: 'top', lineHeight: 22 }),
  b: Object.assign({}, labelFont, { fontSize: 15, verticalAlign: 'bottom', lineHeight: 15, padding: [12, 0, 0, 0] })
}

function xAxes (gridIndex, showLabel) {
  const base = {
    type: 'value', gridIndex: gridIndex, min: 0, max: 3.5, interval: .5,
    axisLine: { show: true, onZero: false, lineStyle: { color: frameColor, width: 1.5 } },
    axisTick: { show: true, inside: true, length: 6, lineStyle: { color: '#555', width: 1 } }
  }
  const bottom = Object.assign({}, base, {
    position: 'bottom',
    axisLabel: Object.assign({ show: showLabel, margin: 9, showMaxLabel: true, showMinLabel: true }, labelFont),
    splitLine: { show: true, lineStyle: { color: '#555', width: 1, type: [1, 4] } }
  })
  if (showLabel) {
    bottom.name = '<u> [m/s]'
    bottom.nameLocation = 'middle'
    bottom.nameGap = 40
    bottom.nameTextStyle = labelFont
  }
  const top = Object.assign({}, base, { position: 'top', axisLabel: { show: false }, splitLine: { show: false } })
  return [bottom, top]
}
function yAxes (gridIndex) {
  const base = {
    type: 'value', gridIndex: gridIndex, min: 0, max: 30, interval: 10,
    axisLine: { show: true, onZero: false, lineStyle: { color: frameColor, width: 1.5 } },
    axisTick: { show: true, inside: true, length: 6, lineStyle: { color: '#555', width: 1 } }
  }
  const left = Object.assign({}, base, {
    position: 'left',
    name: '{a|I}{b|u}{a| [%]}',
    nameLocation: 'middle',
    nameRotate: 90,
    nameGap: 34,
    nameTextStyle: { rich: titleRich },
    axisLabel: Object.assign({ margin: 4, showMinLabel: true, showMaxLabel: true }, labelFont),
    splitLine: { show: true, lineStyle: { color: '#555', width: 1, type: [1, 4] } }
  })
  const right = Object.assign({}, base, { position: 'right', axisLabel: { show: false }, splitLine: { show: false } })
  return [left, right]
}

function scatter (name, columns, axis, color, z, size) {
  return {
    name: name, type: 'scatter', xAxisIndex: axis, yAxisIndex: axis,
    data: toPoints(columns), symbolSize: size, z: z, silent: true,
    itemStyle: { color: color, opacity: 1 }
  }
}
function fitLine (name, points, axis, color) {
  return {
    name: name, type: 'line', xAxisIndex: axis, yAxisIndex: axis,
    data: points, showSymbol: false, z: 6, silent: true,
    lineStyle: { color: color, width: 4.5, cap: 'butt' }, itemStyle: { color: color }
  }
}
function band (axis) {
  return {
    type: 'line', xAxisIndex: axis, yAxisIndex: axis, data: [[0, 0]], showSymbol: false, z: 1, silent: true,
    lineStyle: { opacity: 0 },
    markArea: {
      silent: true,
      itemStyle: { color: '#808080', borderColor: '#333', borderWidth: 0.8 },
      data: [[{ xAxis: lowSpeedBand[0], yAxis: 0 }, { xAxis: lowSpeedBand[1], yAxis: 30 }]]
    }
  }
}
function legendOf (names, left, top, rightPad) {
  return {
    data: names, orient: 'vertical', left: left, top: top, icon: 'rect', itemWidth: 40, itemHeight: 4.5, itemGap: 5,
    padding: [4, rightPad, 5, 8], backgroundColor: '#fff', borderColor: '#333', borderWidth: 1, borderRadius: 0,
    selectedMode: false, textStyle: Object.assign({}, labelFont, { fontSize: 18.5 })
  }
}

const mychart = echarts.init(document.getElementById('mychart'))
mychart.setOption({
  animation: false,
  backgroundColor: '#fff',
  title: [
    { text: titleOf('Nodule Point', '4.7'), left: 360, top: 0, textAlign: 'center', textStyle: { rich: titleRich } },
    { text: titleOf('Admiralty Head', '8.1'), left: 360, top: 243, textAlign: 'center', textStyle: { rich: titleRich } }
  ],
  grid: [
    { left: 65, top: 44, width: 600, height: 184, outerBoundsMode: 'none' },
    { left: 65, top: 286, width: 600, height: 183.5, outerBoundsMode: 'none' }
  ],
  legend: [
    legendOf(['ADCP', 'ADV'], 548, 50, 4),
    legendOf(['AWAC Feb', 'AWAC MayJun'], 472, 293, 0)
  ],
  xAxis: xAxes(0, false).concat(xAxes(1, true)),
  yAxis: yAxes(0).concat(yAxes(1)),
  series: [
    band(0),
    scatter('ADCP dots', adcpColumns, 0, '#7078bd', 2, 3.6),
    scatter('ADCP fill dots', adcpFillColumns, 0, '#7078bd', 2, 3.6),
    scatter('ADV dots', advColumns, 0, '#f4787f', 3, 3.6),
    scatter('ADV fill dots', advFillColumns, 0, '#f4787f', 3, 4),
    fitLine('ADCP', adcpLine, 0, '#2f4ea2'),
    fitLine('ADV', advLine, 0, '#ee1f2d'),
    band(3),
    scatter('Feb dots', febColumns, 3, '#8ccb7c', 2, 3.6),
    scatter('MayJun dots', mayJunColumns, 3, '#7b96cf', 3, 4.2),
    scatter('MayJun fill dots', mayJunFillColumns, 3, '#7b96cf', 3, 5),
    fitLine('AWAC Feb', febLine, 3, '#58bd43'),
    fitLine('AWAC MayJun', mayJunLine, 3, '#58c8dc')
  ]
})
</script>
</body>
</html>
